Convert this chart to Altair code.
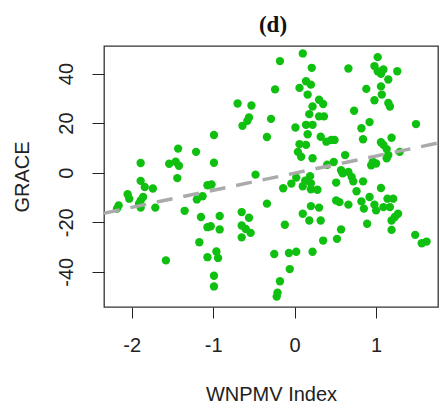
import altair as alt
import pandas as pd

# WNPMV index values (x) and GRACE values (y)
wnpmv = [
    -0.99, -1.43, -1.21, -1.89, -1.54, -1.46, -1.42, -0.99, -1.89, -1.84,
    -1.74, -1.44, -2.05, -2.03, -2.16, -2.18, -1.89, -1.91, -1.89, -1.86,
    -1.71, -1.35, -1.20, -1.13, -1.07, -1.02, -1.15, -1.07, -1.03, -1.17,
    -1.07, -0.96, -0.94, -1.58, -0.99, -0.99, -0.92, -0.92,
    -0.70, -0.53, -0.56, -0.58, -0.64, -0.29, -0.34, -0.24, -0.18, -0.48,
    -0.34, -0.65, -0.56, -0.65, -0.60, -0.54, -0.65, -0.12, -0.25, -0.07,
    0.02, -0.06, -0.18, -0.21, -0.22, -0.14,
    0.10, 0.21, 0.14, 0.20, 0.06, 0.16, 0.30, 0.35, 0.22, 0.18,
    0.30, 0.36, 0.01, 0.14, 0.22, 0.16, 0.32, 0.39, 0.06, 0.14,
    0.04, 0.08, 0.22, 0.40, 0.45, 0.49, 0.48,
    -0.04, 0.02, 0.13, 0.19, 0.20, 0.10, 0.20, 0.28, 0.20, 0.30,
    0.10, 0.18, 0.32, 0.35, 0.22,
    1.02, 0.98, 1.02, 1.09, 1.06, 0.66, 1.26, 1.15, 1.06, 0.88,
    1.07, 0.98, 1.15, 1.17, 0.73, 0.92, 0.82, 1.49, 0.84, 1.19,
    1.06, 1.09, 1.13, 1.29, 0.62, 1.13, 1.15, 0.96, 1.00, 0.94,
    0.57, 0.59, 0.66,
    0.51, 0.72, 0.84, 0.70, 0.76, 1.06, 0.51, 0.55, 0.66, 0.82,
    0.85, 0.92, 0.98, 1.00, 1.09, 1.14, 1.21, 1.17, 1.27, 1.23,
    1.19, 0.89, 1.19, 0.57, 0.52, 1.48, 1.56, 1.62,
]
grace = [
    15.2, 9.7, 8.4, 3.9, 3.6, 4.4, 2.8, 4.0, -3.3, -5.8,
    -6.4, -2.2, -8.7, -10.5, -13.2, -14.5, -11.2, -12.5, -14.1, -9.8,
    -14.1, -15.4, -10.8, -9.5, -5.1, -4.8, -17.9, -22.0, -21.6, -28.1,
    -34.1, -31.8, -34.4, -35.4, -41.6, -45.9, -17.5, -22.9,
    27.9, 27.1, 22.3, 20.9, 18.9, 21.7, 14.4, 33.6, 45.0, -0.8,
    -12.5, -15.9, -18.2, -21.3, -22.7, -24.3, -26.1, -21.0, -32.8, -32.4,
    -31.9, -38.9, -43.8, -48.4, -50.0, -6.3,
    48.1, 42.3, 36.9, 35.5, 34.2, 31.5, 29.4, 27.7, 26.7, 23.6,
    22.7, 22.7, 18.2, 19.3, 19.3, 15.5, 14.5, 12.5, 11.5, 11.2,
    8.4, 6.4, 5.8, 3.2, 13.2, 13.2, 4.3,
    -4.4, -2.0, -3.2, -1.4, -4.3, -5.5, -6.7, -6.9, -13.5, -14.1,
    -16.6, -19.3, -19.3, -27.4, -31.9,
    46.6, 43.0, 40.9, 41.6, 39.9, 42.0, 40.9, 37.6, 34.8, 33.8,
    31.5, 29.2, 28.1, 26.7, 25.0, 20.4, 17.9, 19.6, 13.5, 14.1,
    12.3, 11.2, 9.5, 8.4, 7.1, 5.8, 7.1, 4.4, 3.7, 3.0,
    1.0, -0.3, 0.3,
    -4.0, -3.5, -3.5, -1.7, -7.5, -6.2, -11.2, -11.9, -12.9, -11.6,
    -14.5, -9.8, -12.9, -15.2, -13.9, -10.5, -10.5, -13.9, -16.6, -17.9,
    -19.3, -20.6, -23.1, -22.9, -26.7, -25.1, -28.5, -27.8,
]

# fitted (dashed) line
line_intercept = -0.2
line_slope = 6.9

panel_title = "(d)"
x_ticks = [-2, -1, 0, 1]
y_ticks = [-40, -20, 0, 20, 40]
x_domain = [-2.34, 1.76]
y_domain = [-54.2, 51.1]

pts = pd.DataFrame({"x": wnpmv, "y": grace})
line_df = pd.DataFrame({
    "x": x_domain,
    "y": [line_intercept + line_slope * v for v in x_domain],
})
title_df = pd.DataFrame({"t": [panel_title]})

W, H = 334, 261
FONT = "Liberation Sans"
INK = "#222222"

x_enc = alt.X(
    "x:Q",
    scale=alt.Scale(domain=x_domain, nice=False, zero=False),
    axis=alt.Axis(
        title="WNPMV Index", values=x_ticks, grid=False, domain=False,
        labelExpr="toString(datum.value)",
        tickSize=11, tickColor=INK, tickWidth=1,
        labelFont=FONT, labelFontSize=20, labelColor=INK,
        labelBaseline="alphabetic", labelPadding=33.5, labelFlush=False,
        titleFont=FONT, titleFontSize=20, titleFontWeight="normal",
        titleColor=INK, titleBaseline="alphabetic",
        titleX=W / 2, titleY=93.7, titleAnchor="middle",
    ),
)
y_enc = alt.Y(
    "y:Q",
    scale=alt.Scale(domain=y_domain, nice=False, zero=False),
    axis=alt.Axis(
        title="GRACE", values=y_ticks, grid=False, domain=False,
        labelExpr="toString(datum.value)",
        tickSize=12, tickColor=INK, tickWidth=1,
        labelFont=FONT, labelFontSize=20, labelColor=INK,
        labelAngle=270, labelAlign="center", labelBaseline="alphabetic",
        labelPadding=19.5, labelFlush=False,
        titleFont=FONT, titleFontSize=20, titleFontWeight="normal",
        titleColor=INK, titleAngle=270, titleAlign="center",
        titleBaseline="alphabetic", titleX=-75.5, titleY=H / 2,
    ),
)

points = alt.Chart(pts).mark_circle(size=70, opacity=1, color="#10c010").encode(
    x=x_enc, y=y_enc
)

line = alt.Chart(line_df).mark_line(
    color="#aaaaaa", strokeWidth=3.5, strokeDash=[16, 11], clip=True
).encode(x="x:Q", y="y:Q")

title_mark = alt.Chart(title_df).mark_text(
    font="Liberation Serif", fontSize=23, fontWeight="bold", color="#111111",
    align="center", baseline="alphabetic",
).encode(text="t:N", x=alt.value(W / 2 + 2), y=alt.value(-14))

chart = (
    alt.layer(points, line, title_mark)
    .properties(
        width=W,
        height=H,
        autosize=alt.AutoSizeParams(type="none"),
        padding={"left": 104, "top": 46, "right": 1, "bottom": 101},
        background="white",
    )
    .configure_view(stroke="#333333", strokeWidth=1.3)
)

chart.save("out.html", embed_options={"renderer": "svg", "actions": False})
